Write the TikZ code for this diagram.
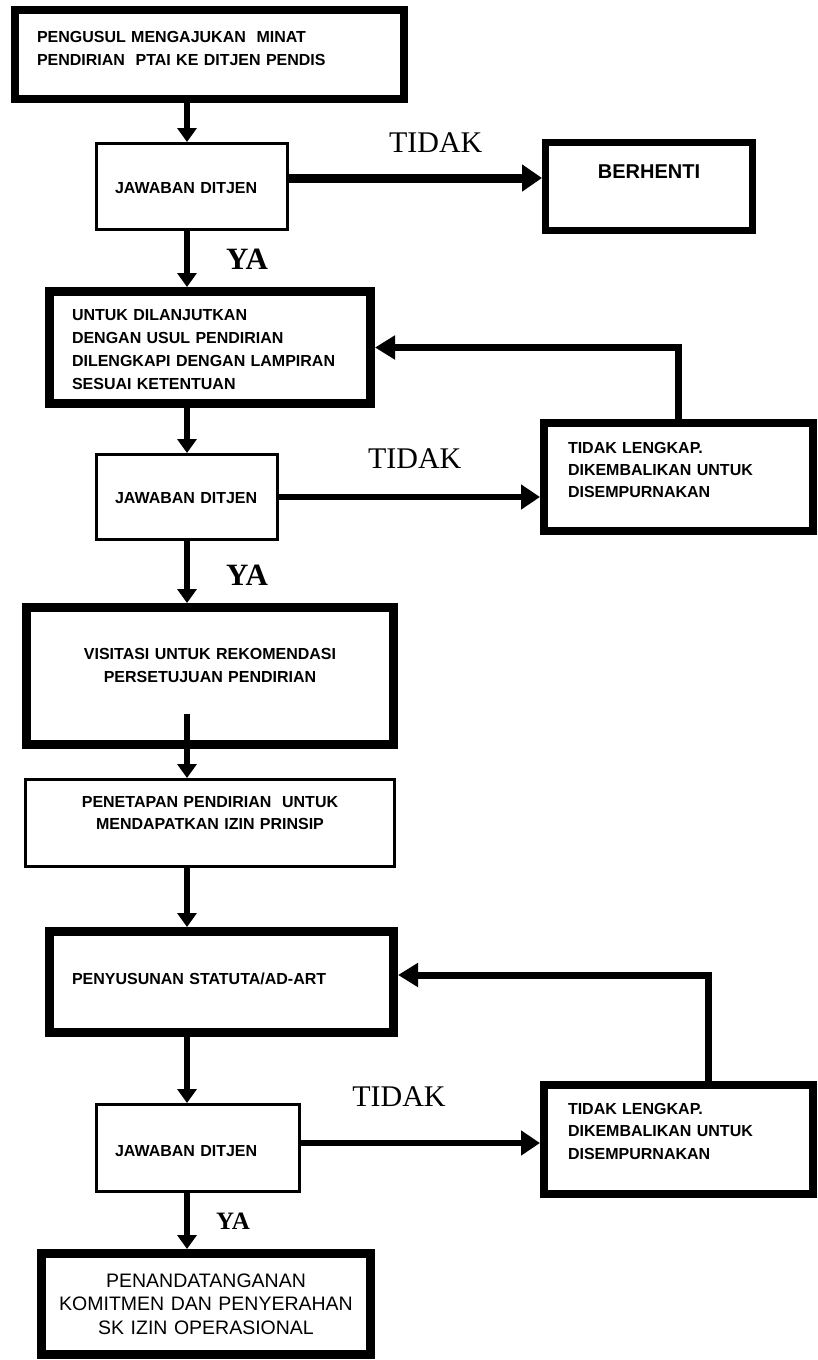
\documentclass[tikz,border=0pt]{standalone}
\usepackage{fontspec}
\setmainfont{Liberation Sans}
\newfontfamily\serifl{Liberation Serif}
\usetikzlibrary{arrows.meta}

\begin{document}
\begin{tikzpicture}[x=1pt,y=-1pt,
    box/.style={draw,anchor=north west,inner ysep=0pt,font=\bfseries\fontsize{16}{22.5}\selectfont},
    heavy/.style={box,line width=8pt},
    light/.style={box,line width=3pt},
    flow/.style={line width=6pt,-{Triangle[length=14pt,width=19pt]}},
    side/.style={line width=6pt,-{Triangle[length=19pt,width=24pt]}},
    back/.style={line width=7pt,-{Triangle[length=20pt,width=23pt]}},
    yes/.style={inner sep=0pt,font=\serifl\bfseries\fontsize{31}{31}\selectfont},
    no/.style={inner sep=0pt,font=\serifl\fontsize{30}{30}\selectfont}]
  \useasboundingbox (0,0) rectangle (817,1360);
  \coordinate (col) at (187,0);

  \node[heavy,align=left,inner xsep=22pt,text width=345pt,text height=32.5pt,text depth=56.5pt] (start) at (11,6)
    {PENGUSUL MENGAJUKAN~~MINAT\\PENDIRIAN~~PTAI KE DITJEN PENDIS};
  \node[light,align=left,inner xsep=18.5pt,text width=154pt,text height=49.5pt,text depth=36.5pt] (jaw1) at (95,142)
    {JAWABAN~DITJEN};
  \node[heavy,line width=7pt,align=center,font=\bfseries\fontsize{20}{24}\selectfont,inner xsep=10pt,text width=187pt,text height=35.5pt,text depth=52.5pt] (stop) at (542,139)
    {BERHENTI};
  \node[heavy,line width=9pt,align=left,font=\bfseries\fontsize{16}{23.3}\selectfont,inner xsep=22.5pt,text width=276pt,text height=28.5pt,text depth=83.5pt] (cond) at (45,287)
    {UNTUK DILANJUTKAN\\DENGAN USUL PENDIRIAN\\DILENGKAPI DENGAN LAMPIRAN\\SESUAI KETENTUAN};
  \node[light,align=left,inner xsep=18.5pt,text width=144pt,text height=48.5pt,text depth=36.5pt] (jaw2) at (95,453)
    {JAWABAN~DITJEN};
  \node[heavy,align=left,font=\bfseries\fontsize{16}{22}\selectfont,inner xsep=24pt,text width=221pt,text height=30pt,text depth=78pt] (back1) at (540,419)
    {TIDAK LENGKAP.\\DIKEMBALIKAN UNTUK\\DISEMPURNAKAN};
  \node[heavy,line width=9pt,align=center,font=\bfseries\fontsize{16}{23}\selectfont,inner xsep=10pt,text width=347pt,text height=51.5pt,text depth=85.5pt] (visit) at (22,603)
    {VISITASI UNTUK REKOMENDASI\\PERSETUJUAN PENDIRIAN};
  \node[light,align=center,font=\bfseries\fontsize{16}{22}\selectfont,inner xsep=10pt,text width=349pt,text height=27.5pt,text depth=59.5pt] (fix) at (24,778)
    {PENETAPAN PENDIRIAN~~UNTUK\\MENDAPATKAN IZIN PRINSIP};
  \node[heavy,line width=9pt,align=left,inner xsep=22.5pt,text width=299pt,text height=52.5pt,text depth=48.5pt] (stat) at (45,927)
    {PENYUSUNAN STATUTA/AD-ART};
  \node[light,align=left,inner xsep=18.5pt,text width=166pt,text height=51.5pt,text depth=35.5pt] (jaw3) at (95,1103)
    {JAWABAN~DITJEN};
  \node[heavy,align=left,inner xsep=24pt,text width=221pt,text height=29pt,text depth=80pt] (back2) at (540,1081)
    {TIDAK LENGKAP.\\DIKEMBALIKAN UNTUK\\DISEMPURNAKAN};
  \node[heavy,line width=9pt,align=center,font=\fontsize{19.5}{23.5}\selectfont,inner xsep=10pt,text width=309pt,text height=33.5pt,text depth=67.5pt] (sign) at (37,1249)
    {PENANDATANGANAN\\KOMITMEN DAN PENYERAHAN\\SK IZIN OPERASIONAL};

  \draw[flow] (start.south -| col) -- (jaw1.north -| col);
  \draw[side,line width=9pt,-{Triangle[length=20pt,width=26pt]}] ([yshift=8.5pt]jaw1.east) -- node[no,pos=0.58,above=21pt] {TIDAK} ([yshift=8.5pt]stop.west);
  \draw[flow] (jaw1.south -| col) -- node[yes,right=36pt] {YA} (cond.north -| col);
  \draw[flow] (cond.south -| col) -- (jaw2.north -| col);
  \draw[side] (jaw2.east) -- node[no,pos=0.52,above=25pt] {TIDAK} (jaw2.east -| back1.west);
  \draw[back] (back1.north) |- (cond.east);
  \draw[flow] (jaw2.south -| col) -- node[yes,pos=0.55,right=36pt] {YA} (visit.north -| col);
  \draw[flow] ([yshift=35pt]visit.south -| col) -- (fix.north -| col);
  \draw[flow] (fix.south -| col) -- (stat.north -| col);
  \draw[flow] (stat.south -| col) -- (jaw3.north -| col);
  \draw[side] ([yshift=5pt]jaw3.east) -- node[no,pos=0.41,above=33pt] {TIDAK} ([yshift=5pt]jaw3.east -| back2.west);
  \draw[back] ([xshift=30pt]back2.north) |- ([yshift=7pt]stat.east);
  \draw[flow] (jaw3.south -| col) -- node[yes,right=26pt,font=\serifl\bfseries\fontsize{25}{25}\selectfont] {YA} (sign.north -| col);
\end{tikzpicture}
\end{document}
